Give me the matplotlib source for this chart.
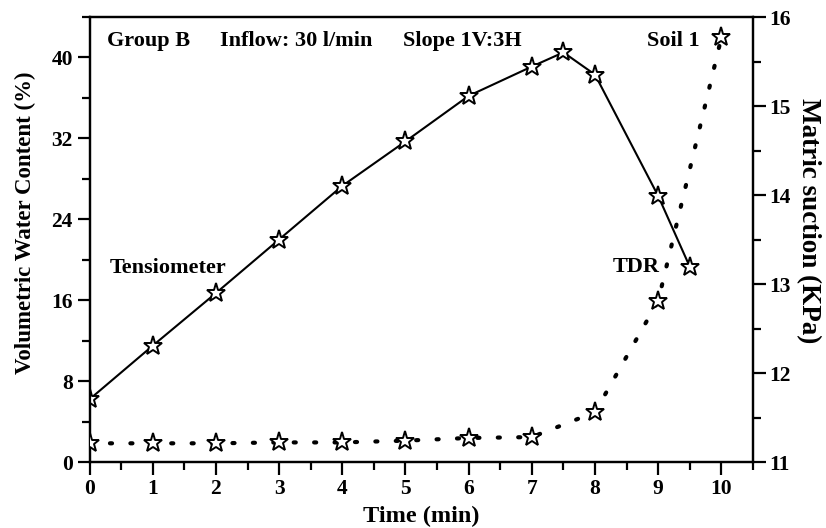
import numpy as np
import matplotlib
matplotlib.use('Agg')
from matplotlib import pyplot as plt
from matplotlib.ticker import MultipleLocator

# solid series, left axis (volumetric water content, %)
t_vwc = [0, 1, 2, 3, 4, 5, 6, 7, 7.5, 8, 9, 9.5]
vwc = [6.2, 11.5, 16.7, 22.0, 27.3, 31.7, 36.2, 39.1, 40.5, 38.3, 26.3, 19.3]

# dotted series, right axis (matric suction, kPa)
t_suc = [0, 1, 2, 3, 4, 5, 6, 7, 8, 9, 10]
suction = [11.21, 11.21, 11.21, 11.22, 11.22, 11.24, 11.27, 11.28, 11.56, 12.81, 15.77]

plt.rcParams['font.family'] = ['Liberation Serif', 'DejaVu Serif']
plt.rcParams['font.weight'] = 'bold'

fig = plt.figure(figsize=(8.26, 5.28), dpi=100)
ax = fig.add_axes([0.1084, 0.125, 0.8032, 0.8428])
ax2 = ax.twinx()

ax.plot(t_vwc, vwc, color='black', lw=1.5, marker='*', ms=14, mfc='white',
        mec='black', mew=1.4, zorder=3)
ax2.plot(t_suc, suction, color='black', lw=3.0, linestyle=(0, (0.5, 4.4)),
         dash_capstyle='round', marker='*', ms=14, mfc='white', mec='black',
         mew=1.4, zorder=3)

ax.set_xlim(0, 10.5)
ax.set_ylim(0, 44)
ax2.set_ylim(11, 16)

ax.xaxis.set_major_locator(MultipleLocator(1))
ax.xaxis.set_minor_locator(MultipleLocator(0.5))
ax.yaxis.set_major_locator(MultipleLocator(8))
ax.yaxis.set_minor_locator(MultipleLocator(4))
ax2.yaxis.set_major_locator(MultipleLocator(1))
ax2.yaxis.set_minor_locator(MultipleLocator(0.5))

for a in (ax, ax2):
    for s in a.spines.values():
        s.set_linewidth(1.6)
    a.tick_params(which='major', direction='out', length=9, width=1.6,
                  labelsize=15.5, pad=3)
    a.tick_params(which='minor', direction='out', length=5.5, width=1.6)
ax.tick_params(axis='both', which='both', top=False, right=False)
ax2.tick_params(axis='y', which='both', left=False, right=True)

for lab in ax.get_xticklabels() + ax.get_yticklabels() + ax2.get_yticklabels():
    lab.set_fontweight('bold')

ax.set_xlabel('Time (min)', fontsize=17.5, fontweight='bold', labelpad=5)
ax.set_ylabel('Volumetric Water Content (%)', fontsize=16.5, fontweight='bold',
              va='center')
ax.yaxis.set_label_coords(-0.097, 0.537)
ax2.set_ylabel('Matric suction (KPa)', fontsize=19.5, fontweight='bold',
               rotation=270, va='center')
ax2.yaxis.set_label_coords(1.084, 0.543)

tkw = dict(fontsize=16, fontweight='bold', va='center')
ax.text(0.28, 41.6, 'Group B', ha='left', **tkw)
ax.text(2.06, 41.6, 'Inflow: 30 l/min', ha='left', **tkw)
ax.text(4.96, 41.6, 'Slope 1V:3H', ha='left', **tkw)
ax.text(9.66, 41.6, 'Soil 1', ha='right', **tkw)
ax.text(0.32, 19.2, 'Tensiometer', ha='left', **tkw)
ax.text(9.03, 19.3, 'TDR', ha='right', **tkw)

fig.savefig('out.png', dpi=100)
